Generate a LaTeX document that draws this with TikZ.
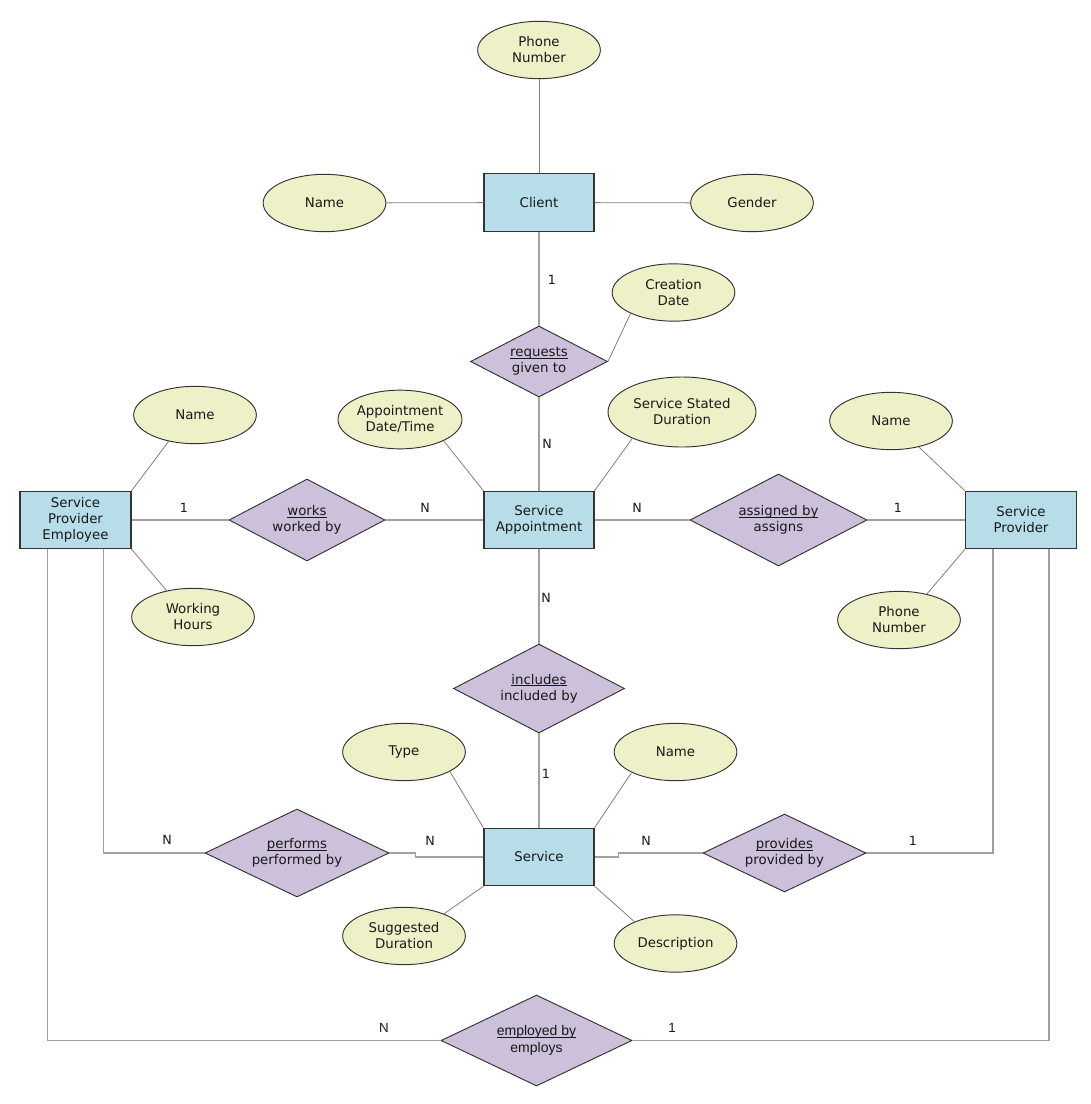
\documentclass[tikz,border=0pt]{standalone}
\usepackage{fontspec}
\setmainfont{DejaVu Sans}
\newfontfamily\arialf{Liberation Sans}
\usetikzlibrary{shapes.geometric}
\definecolor{entfill}{HTML}{B7DDE8}
\definecolor{attfill}{HTML}{EEF0C8}
\definecolor{relfill}{HTML}{CCC0DA}
\definecolor{edgec}{HTML}{333333}
\definecolor{rlc}{HTML}{A0A0A0}
\definecolor{alc}{HTML}{808080}
\newsavebox\ulbox
\newcommand{\ulx}[1]{\sbox\ulbox{#1}\rlap{\rule[-1.4pt]{\wd\ulbox}{0.5pt}}\usebox\ulbox}
\tikzset{
  txt/.style={font=\fontsize{10}{12}\selectfont, text=black!90, align=center},
  entity/.style={draw=edgec, line width=0.8pt, fill=entfill, rectangle, inner sep=0pt, minimum width=82.5pt, minimum height=43pt, txt},
  attr/.style={draw=edgec, line width=0.7pt, fill=attfill, ellipse, inner sep=0pt, minimum width=92pt, minimum height=43pt, txt},
  rel/.style={draw=edgec, line width=0.7pt, fill=relfill, diamond, inner sep=0pt},
  rline/.style={draw=rlc, line width=1.1pt},
  aline/.style={draw=alc, line width=0.6pt},
  card/.style={font=\fontsize{9.5}{11}\selectfont, text=black!90, inner sep=0pt},
  acard/.style={font=\arialf\fontsize{10}{11}\selectfont, text=black!90, inner sep=0pt},
}
\begin{document}
\begin{tikzpicture}[x=0.75pt,y=-0.75pt]
\useasboundingbox[fill=white] (0,0) rectangle (1091,1104);

% Entities
\node[entity] (client) at (539,202.5) {Client};
\node[entity] (sa) at (539,520) {Service\\Appointment};
\node[entity, minimum width=83.25pt] (spe) at (75.5,520) {Service\\Provider\\Employee};
\node[entity, minimum width=83.25pt] (sp) at (1021,520) {Service\\Provider};
\node[entity] (service) at (539,857) {Service};

% Attributes
\node[attr] (phonec) at (539,50) {Phone\\Number};
\node[attr] (namec) at (324.5,203) {Name};
\node[attr] (gender) at (752,203) {Gender};
\node[attr] (creation) at (673.5,292.5) {Creation\\Date};
\node[attr, minimum width=93pt, minimum height=44pt] (apptdt) at (400,419.5) {Appointment\\Date/Time};
\node[attr, minimum width=111pt, minimum height=52.5pt] (ssd) at (682,412) {Service Stated\\Duration};
\node[attr] (namespe) at (195,415) {Name};
\node[attr] (wh) at (193,617) {Working\\Hours};
\node[attr] (namesp) at (891,421) {Name};
\node[attr] (phonesp) at (899,620) {Phone\\Number};
\node[attr] (type) at (404,752) {Type};
\node[attr] (names) at (675.5,752) {Name};
\node[attr] (sd) at (404,936) {Suggested\\Duration};
\node[attr] (desc) at (675.5,943.5) {Description};

% Relationships
\node[rel, minimum width=102.75pt, minimum height=53.25pt] (requests) at (539,361.5) {};
\node[rel, minimum width=117pt, minimum height=61.5pt] (works) at (307,520) {};
\node[rel, minimum width=132.75pt, minimum height=69pt] (assigned) at (778.5,520) {};
\node[rel, minimum width=128.25pt, minimum height=66.75pt] (includes) at (539,688.5) {};
\node[rel, minimum width=138pt, minimum height=66pt] (performs) at (297,853) {};
\node[rel, minimum width=122.25pt, minimum height=58.5pt] (provides) at (784.5,853) {};
\node[rel, minimum width=143.25pt, minimum height=68.25pt] (employed) at (536.5,1040.5) {};

% relationship connectors
\draw[rline] (client) -- (requests);
\draw[rline] (requests) -- (sa);
\draw[rline] (spe) -- (works);
\draw[rline] (works) -- (sa);
\draw[rline] (sa) -- (assigned);
\draw[rline] (assigned) -- (sp);
\draw[rline] (sa) -- (includes);
\draw[rline] (includes) -- (service);
\draw[rline] (performs.east) -- ++(26,0) |- (service.west);
\draw[rline] (provides.west) -- ++(-84,0) |- (service.east);
\draw[rline] (spe.south west) ++(84,0) |- (performs.west);
\draw[rline] (spe.south west) ++(28,0) |- (employed.west);
\draw[rline] (sp.south west) ++(28,0) |- (provides.east);
\draw[rline] (sp.south west) ++(84,0) |- (employed.east);

% attribute connectors
\draw[aline] (client) -- (phonec);
\draw[aline] (client) -- (namec);
\draw[aline] (client) -- (gender);
\draw[aline] (requests.east) -- (creation.206);
\draw[aline] (sa.north west) -- (apptdt.-26);
\draw[aline] (sa.north east) -- (ssd.208);
\draw[aline] (spe.north east) -- (namespe.225);
\draw[aline] (spe.south east) -- (wh.135);
\draw[aline] (sp.north west) -- (namesp.-43);
\draw[aline] (sp.south west) -- (phonesp.43);
\draw[aline] (service.north west) -- (type.-23);
\draw[aline] (service.north east) -- (names.205);
\draw[aline] (service.south west) -- (sd.29);
\draw[aline] (service.south east) -- (desc.152);

% relationship labels
\node[txt] (requestsT) at (requests) {\ulx{requests}\\given to};
\node[txt] (worksT) at (works) {\ulx{works}\\worked by};
\node[txt] (assignedT) at (assigned) {\ulx{assigned by}\\assigns};
\node[txt] (includesT) at (includes) {\ulx{includes}\\included by};
\node[txt] (performsT) at (performs) {\ulx{performs}\\performed by};
\node[txt] (providesT) at (provides) {\ulx{provides}\\provided by};
\node[txt, font=\arialf\fontsize{10.5}{12.5}\selectfont] (employedT) at (employed) {\ulx{employed by}\\employs};

% cardinalities
\node[card] (c1) at (552,280) {1};
\node[card] (c2) at (547,444) {N};
\node[card] (c3) at (184,508) {1};
\node[card] (c4) at (425,508) {N};
\node[card] (c5) at (637,508) {N};
\node[card] (c6) at (898,508) {1};
\node[card] (c7) at (546,598) {N};
\node[card] (c8) at (546,774) {1};
\node[card] (c9) at (167,840) {N};
\node[card] (c10) at (430,841) {N};
\node[card] (c11) at (646,841) {N};
\node[card] (c12) at (913,841) {1};
\node[acard] (c13) at (384,1028) {N};
\node[acard] (c14) at (672,1028) {1};
\end{tikzpicture}
\end{document}
